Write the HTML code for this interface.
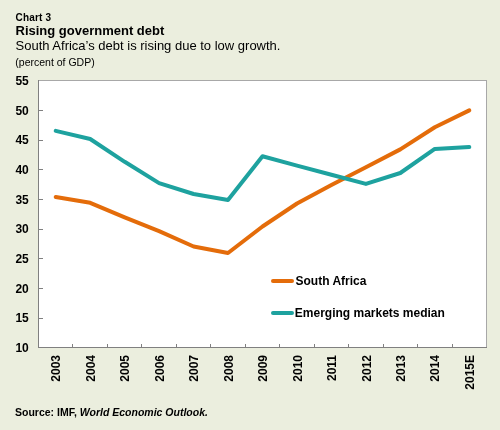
<!DOCTYPE html>
<html><head><meta charset="utf-8"><style>
html,body{margin:0;padding:0;background:#EBEEDE;}
svg{display:block;will-change:transform;}
text{font-family:"Liberation Sans",sans-serif;fill:#000;}
.b12{font-size:12px;font-weight:bold;}
.b13{font-size:13px;font-weight:bold;}
.r13{font-size:13px;}
.r10{font-size:10.5px;}
.t10{font-size:10px;font-weight:bold;}
.s10{font-size:10.5px;font-weight:bold;}
</style></head><body>
<svg width="500" height="430" viewBox="0 0 500 430">
<rect x="0" y="0" width="500" height="430" fill="#EBEEDE"/>
<rect x="38" y="80" width="449" height="268" fill="#fff"/>
<rect x="38" y="80" width="449" height="1" fill="#A8A8A8"/>
<rect x="486" y="80" width="1" height="268" fill="#A8A8A8"/>
<rect x="38" y="80" width="1" height="268" fill="#808080"/>
<rect x="38" y="347" width="449" height="1" fill="#808080"/>
<rect x="39" y="318" width="4" height="1" fill="#808080"/>
<rect x="39" y="288" width="4" height="1" fill="#808080"/>
<rect x="39" y="258" width="4" height="1" fill="#808080"/>
<rect x="39" y="229" width="4" height="1" fill="#808080"/>
<rect x="39" y="199" width="4" height="1" fill="#808080"/>
<rect x="39" y="169" width="4" height="1" fill="#808080"/>
<rect x="39" y="140" width="4" height="1" fill="#808080"/>
<rect x="39" y="110" width="4" height="1" fill="#808080"/>
<rect x="72" y="344" width="1" height="3" fill="#808080"/>
<rect x="107" y="344" width="1" height="3" fill="#808080"/>
<rect x="141" y="344" width="1" height="3" fill="#808080"/>
<rect x="176" y="344" width="1" height="3" fill="#808080"/>
<rect x="210" y="344" width="1" height="3" fill="#808080"/>
<rect x="245" y="344" width="1" height="3" fill="#808080"/>
<rect x="279" y="344" width="1" height="3" fill="#808080"/>
<rect x="314" y="344" width="1" height="3" fill="#808080"/>
<rect x="348" y="344" width="1" height="3" fill="#808080"/>
<rect x="383" y="344" width="1" height="3" fill="#808080"/>
<rect x="417" y="344" width="1" height="3" fill="#808080"/>
<rect x="452" y="344" width="1" height="3" fill="#808080"/>
<text x="28.8" y="351.8" text-anchor="end" class="b12">10</text>
<text x="28.8" y="322.1" text-anchor="end" class="b12">15</text>
<text x="28.8" y="292.5" text-anchor="end" class="b12">20</text>
<text x="28.8" y="262.8" text-anchor="end" class="b12">25</text>
<text x="28.8" y="233.1" text-anchor="end" class="b12">30</text>
<text x="28.8" y="203.5" text-anchor="end" class="b12">35</text>
<text x="28.8" y="173.8" text-anchor="end" class="b12">40</text>
<text x="28.8" y="144.1" text-anchor="end" class="b12">45</text>
<text x="28.8" y="114.5" text-anchor="end" class="b12">50</text>
<text x="28.8" y="84.8" text-anchor="end" class="b12">55</text>
<text transform="translate(60.3,355) rotate(-90)" text-anchor="end" class="b12">2003</text>
<text transform="translate(94.8,355) rotate(-90)" text-anchor="end" class="b12">2004</text>
<text transform="translate(129.3,355) rotate(-90)" text-anchor="end" class="b12">2005</text>
<text transform="translate(163.7,355) rotate(-90)" text-anchor="end" class="b12">2006</text>
<text transform="translate(198.2,355) rotate(-90)" text-anchor="end" class="b12">2007</text>
<text transform="translate(232.6,355) rotate(-90)" text-anchor="end" class="b12">2008</text>
<text transform="translate(267.1,355) rotate(-90)" text-anchor="end" class="b12">2009</text>
<text transform="translate(301.6,355) rotate(-90)" text-anchor="end" class="b12">2010</text>
<text transform="translate(336.0,355) rotate(-90)" text-anchor="end" class="b12">2011</text>
<text transform="translate(370.5,355) rotate(-90)" text-anchor="end" class="b12">2012</text>
<text transform="translate(404.9,355) rotate(-90)" text-anchor="end" class="b12">2013</text>
<text transform="translate(439.4,355) rotate(-90)" text-anchor="end" class="b12">2014</text>
<text transform="translate(473.9,355) rotate(-90)" text-anchor="end" class="b12">2015E</text>
<polyline points="55.7,197.0 90.2,202.8 124.7,217.4 159.1,231.2 193.6,246.5 228.0,253.0 262.5,226.5 297.0,203.5 331.4,185.0 365.9,167.2 400.3,149.4 434.8,127.3 469.3,110.4" fill="none" stroke="#E46C0A" stroke-width="4" stroke-linejoin="round" stroke-linecap="round"/>
<polyline points="55.7,130.9 90.2,139.0 124.7,161.8 159.1,183.1 193.6,194.0 228.0,200.0 262.5,156.2 297.0,165.6 331.4,174.8 365.9,183.9 400.3,173.0 434.8,148.9 469.3,147.0" fill="none" stroke="#1EA29F" stroke-width="4" stroke-linejoin="round" stroke-linecap="round"/>
<line x1="273" y1="281" x2="292" y2="281" stroke="#E46C0A" stroke-width="4" stroke-linecap="round"/>
<line x1="273" y1="313" x2="292" y2="313" stroke="#1EA29F" stroke-width="4" stroke-linecap="round"/>
<text x="295.5" y="284.8" class="b12">South Africa</text>
<text x="294.8" y="316.8" class="b12">Emerging markets median</text>
<text x="15.5" y="20.8" class="t10" letter-spacing="0.2">Chart 3</text>
<text x="15.5" y="34.8" class="b13">Rising government debt</text>
<text x="15.5" y="49.8" class="r13">South Africa&#8217;s debt is rising due to low growth.</text>
<text x="15.3" y="65.8" class="r10">(percent of GDP)</text>
<text x="15" y="416" class="s10">Source: IMF, <tspan font-style="italic">World Economic Outlook.</tspan></text>
</svg>
</body></html>
